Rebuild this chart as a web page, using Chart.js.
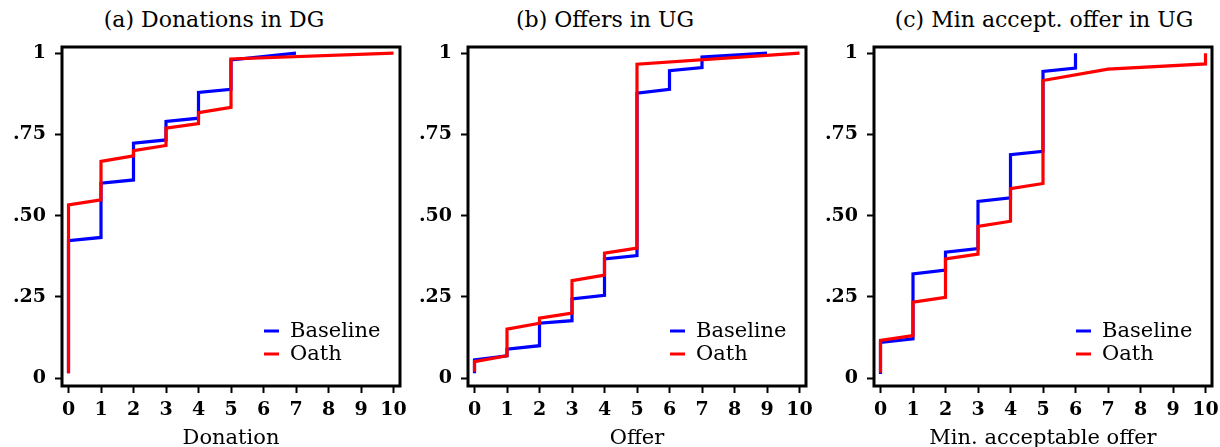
<!DOCTYPE html>
<html><head><meta charset="utf-8">
<script src="https://cdn.jsdelivr.net/npm/chart.js@4"></script>
<style>
html,body{margin:0;padding:0;background:#fff;width:1220px;height:447px;overflow:hidden;position:relative;}
.panel{position:absolute;top:0;width:410px;height:447px;}
.ttl{position:absolute;top:9px;font-family:'DejaVu Serif';font-size:22px;line-height:22px;color:#000;white-space:nowrap;transform:translateX(-50%);}
</style></head><body>
<div id="titles"></div>
<div class="panel" style="left:0px"><canvas id="c0" width="410" height="447"></canvas></div>
<div class="panel" style="left:405px"><canvas id="c1" width="410" height="447"></canvas></div>
<div class="panel" style="left:810px"><canvas id="c2" width="410" height="447"></canvas></div>
<script>
// ---- data ----
const panelTitles = ['(a) Donations in DG', '(b) Offers in UG', '(c) Min accept. offer in UG'];
const axisTitles = ['Donation', 'Offer', 'Min. acceptable offer'];
const seriesNames = ['Baseline', 'Oath'];
const xTickValues = [0, 1, 2, 3, 4, 5, 6, 7, 8, 9, 10];
const yTickValues = [0, 0.25, 0.5, 0.75, 1];
const yTickLabels = ['0', '.25', '.50', '.75', '1'];

// (a) Donations in DG : x value, cumulative share at first and last observation of that value
const dgBaseX    = [0, 1, 2, 3, 4, 5, 7];
const dgBaseLow  = [0.015, 0.433, 0.610, 0.733, 0.800, 0.889, 1.000];
const dgBaseHigh = [0.423, 0.600, 0.723, 0.790, 0.879, 0.979, 1.000];
const dgOathX    = [0, 1, 2, 3, 4, 5, 10];
const dgOathLow  = [0.015, 0.549, 0.684, 0.716, 0.783, 0.833, 1.000];
const dgOathHigh = [0.533, 0.667, 0.700, 0.769, 0.817, 0.982, 1.000];

// (b) Offers in UG
const ugBaseX    = [0, 1, 2, 3, 4, 5, 6, 7, 9];
const ugBaseLow  = [0.015, 0.069, 0.100, 0.177, 0.255, 0.377, 0.889, 0.956, 1.000];
const ugBaseHigh = [0.056, 0.089, 0.169, 0.244, 0.367, 0.877, 0.946, 0.988, 1.000];
const ugOathX    = [0, 1, 2, 3, 4, 5, 10];
const ugOathLow  = [0.020, 0.069, 0.169, 0.200, 0.317, 0.400, 1.000];
const ugOathHigh = [0.051, 0.151, 0.185, 0.300, 0.385, 0.966, 1.000];

// (c) Min acceptable offer in UG
const maoBaseX    = [0, 1, 2, 3, 4, 5, 6];
const maoBaseLow  = [0.013, 0.121, 0.333, 0.399, 0.555, 0.698, 0.954];
const maoBaseHigh = [0.110, 0.321, 0.388, 0.544, 0.688, 0.944, 1.000];
const maoOathX    = [0, 1, 2, 3, 4, 5, 7, 10];
const maoOathLow  = [0.017, 0.131, 0.249, 0.382, 0.483, 0.599, 0.951, 0.967];
const maoOathHigh = [0.116, 0.234, 0.367, 0.467, 0.583, 0.916, 0.951, 1.000];

// ---- layout/style ----
const seriesColors = ['#0000ff', '#ff0000'];
const FONT = "'DejaVu Serif'";
const titleCenters = [214, 605, 1044];
const yAxisWidths = [62, 63, 64];
const rightPads = [10, 9, 8];

function stepPoints(xs, lows, highs) {
  const pts = [];
  for (let i = 0; i < xs.length; i++) {
    pts.push({x: xs[i], y: lows[i]});
    pts.push({x: xs[i], y: highs[i]});
  }
  return pts;
}

const panels = [
  [stepPoints(dgBaseX, dgBaseLow, dgBaseHigh), stepPoints(dgOathX, dgOathLow, dgOathHigh)],
  [stepPoints(ugBaseX, ugBaseLow, ugBaseHigh), stepPoints(ugOathX, ugOathLow, ugOathHigh)],
  [stepPoints(maoBaseX, maoBaseLow, maoBaseHigh), stepPoints(maoOathX, maoOathLow, maoOathHigh)]
];

const titlesDiv = document.getElementById('titles');
panelTitles.forEach((t, i) => {
  const d = document.createElement('div');
  d.className = 'ttl';
  d.style.left = titleCenters[i] + 'px';
  d.textContent = t;
  titlesDiv.appendChild(d);
});

const boxPlugin = {
  id: 'box',
  afterDraw(chart) {
    const {ctx, chartArea: a} = chart;
    ctx.save();
    ctx.strokeStyle = '#000';
    ctx.lineWidth = 3;
    ctx.strokeRect(a.left, a.top, a.right - a.left, a.bottom - a.top);
    ctx.restore();
  }
};

const legendPlugin = {
  id: 'inlegend',
  afterDraw(chart) {
    const {ctx, chartArea: a} = chart;
    ctx.save();
    chart.data.datasets.forEach((ds, i) => {
      const y = a.bottom - 55 + i * 23;
      ctx.strokeStyle = ds.borderColor;
      ctx.lineWidth = 3;
      ctx.beginPath();
      ctx.moveTo(a.right - 136, y);
      ctx.lineTo(a.right - 121, y);
      ctx.stroke();
      ctx.fillStyle = '#000';
      ctx.font = '21px ' + FONT;
      ctx.textBaseline = 'middle';
      ctx.textAlign = 'left';
      ctx.fillText(ds.label, a.right - 110, y + 1);
    });
    ctx.restore();
  }
};

panels.forEach((series, p) => {
  new Chart(document.getElementById('c' + p), {
    type: 'line',
    data: {
      datasets: series.map((pts, s) => ({
        label: seriesNames[s],
        data: pts,
        borderColor: seriesColors[s],
        backgroundColor: seriesColors[s],
        borderWidth: 3.2,
        pointRadius: 0,
        tension: 0,
        fill: false,
        order: s === 0 ? 2 : 1
      }))
    },
    options: {
      responsive: false,
      animation: false,
      layout: {padding: {top: 47, right: rightPads[p], bottom: 0, left: 0}},
      plugins: {legend: {display: false}, tooltip: {enabled: false}, title: {display: false}},
      scales: {
        x: {
          type: 'linear', min: -0.2, max: 10.2,
          afterBuildTicks: s => { s.ticks = xTickValues.map(v => ({value: v})); },
          afterFit: s => { s.height = 61; s.paddingLeft = 0; s.paddingRight = 0; },
          grid: {display: true, drawOnChartArea: false, drawTicks: true, tickLength: 7, tickColor: '#000', tickWidth: 2},
          border: {display: false},
          ticks: {autoSkip: false, maxRotation: 0, padding: 6, color: '#000',
                  font: {family: FONT, size: 19, weight: 'bold'},
                  callback: v => String(v)},
          title: {display: true, text: axisTitles[p], color: '#000',
                  font: {family: FONT, size: 21, lineHeight: 1}, padding: {top: 0, bottom: -2}}
        },
        y: {
          type: 'linear', min: -0.024, max: 1.019,
          afterBuildTicks: s => { s.ticks = yTickValues.map(v => ({value: v})); },
          afterFit: s => { s.width = yAxisWidths[p]; s.paddingTop = 0; s.paddingBottom = 0; },
          grid: {display: true, drawOnChartArea: false, drawTicks: true, tickLength: 7, tickColor: '#000', tickWidth: 2},
          border: {display: false},
          ticks: {autoSkip: false, padding: 9, color: '#000',
                  font: {family: FONT, size: 19, weight: 'bold'},
                  callback: (v, i) => yTickLabels[i]}
        }
      }
    },
    plugins: [boxPlugin, legendPlugin]
  });
});
</script>
</body></html>
